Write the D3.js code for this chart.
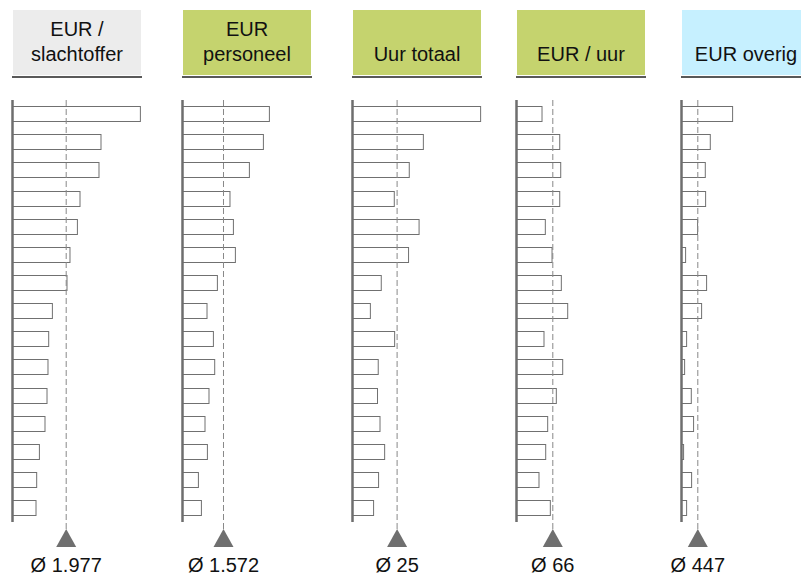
<!DOCTYPE html>
<html>
<head>
<meta charset="utf-8">
<script src="https://cdn.jsdelivr.net/npm/d3@7"></script>
<style>
  html, body { margin: 0; padding: 0; background: #fff; }
  svg { display: block; font-family: "Liberation Sans", Arial, sans-serif; }
</style>
</head>
<body>
<svg id="chart" width="801" height="577"></svg>
<script>
// ---- DATA ----
const titles = [["EUR /", "slachtoffer"], ["EUR", "personeel"], ["Uur totaal"], ["EUR / uur"], ["EUR overig"]];
const averages = [1977, 1572, 25, 66, 447];
const avgLabels = ["Ø 1.977", "Ø 1.572", "Ø 25", "Ø 66", "Ø 447"];
const scaleMax = [4713, 4908, 71.75, 232.7, 3510];
const rows = d3.range(1, 16).map(String);
const eurSlachtoffer = [4727, 3277, 3203, 2504, 2408, 2135, 2025, 1487, 1351, 1325, 1289, 1215, 1009, 909, 884];
const eurPersoneel   = [3351, 3121, 2584, 1840, 1971, 2047, 1357, 959, 1204, 1254, 1035, 882, 974, 629, 744];
const uurTotaal      = [72.1, 40.0, 32.1, 23.7, 37.6, 31.7, 16.4, 10.3, 23.9, 14.7, 14.3, 15.7, 18.3, 14.9, 12.1];
const eurPerUur      = [47.3, 79.5, 81.3, 79.5, 53.3, 65.5, 82.4, 94.0, 50.9, 84.9, 73.3, 57.6, 54.0, 41.8, 62.4];
const eurOverig      = [1415, 803, 666, 675, 455, 126, 702, 565, 154, 99, 282, 345, 71, 291, 154];
const series = [eurSlachtoffer, eurPersoneel, uurTotaal, eurPerUur, eurOverig];

// ---- LAYOUT ----
const panelLeft = [13, 183, 353, 517, 682];
const headerFill = ["#ececec", "#c5d36e", "#c5d36e", "#c5d36e", "#c6f0ff"];
const boxW = 128;

const svg = d3.select("#chart");
const y = d3.scaleBand().domain(rows).range([100, 522]).paddingInner(0.44).paddingOuter(0.215);

series.forEach((vals, i) => {
  const left = panelLeft[i];
  const ax = left - 0.5;
  const x = d3.scaleLinear().domain([0, scaleMax[i]]).range([ax, ax + boxW]);
  const g = svg.append("g");

  // header
  g.append("rect").attr("x", left).attr("y", 10).attr("width", boxW).attr("height", 65)
    .attr("fill", headerFill[i]);
  g.append("line").attr("x1", left - 1).attr("x2", left + boxW + 1).attr("y1", 77).attr("y2", 77)
    .attr("stroke", "#222").attr("stroke-width", 1.5);
  const lines = titles[i];
  const baselines = lines.length === 2 ? [36, 61] : [61];
  lines.forEach((t, k) => {
    g.append("text").attr("x", left + boxW / 2).attr("y", baselines[k])
      .attr("text-anchor", "middle").attr("font-size", 20).attr("fill", "#111").text(t);
  });

  // bars
  g.selectAll("rect.bar").data(vals).join("rect").attr("class", "bar")
    .attr("x", ax)
    .attr("y", (d, j) => Math.round(y(rows[j])) + 0.5)
    .attr("width", d => x(d) - ax - 0.5)
    .attr("height", Math.round(y.bandwidth()) - 1)
    .attr("fill", "#fff").attr("stroke", "#707070").attr("stroke-width", 1);

  // axis line
  g.append("line").attr("x1", ax).attr("x2", ax).attr("y1", 100).attr("y2", 522)
    .attr("stroke", "#6e6e6e").attr("stroke-width", 2.5);

  // average line
  const xa = x(averages[i]);
  g.append("line").attr("x1", xa).attr("x2", xa).attr("y1", 100).attr("y2", 529)
    .attr("stroke", "#888").attr("stroke-width", 1).attr("stroke-dasharray", "6,3");
  g.append("path")
    .attr("d", `M${xa},529 L${xa + 10},547 L${xa - 10},547 Z`)
    .attr("fill", "#6f6f6f");
  g.append("text").attr("x", xa).attr("y", 572).attr("text-anchor", "middle")
    .attr("font-size", 20).attr("fill", "#111").text(avgLabels[i]);
});
</script>
</body>
</html>
